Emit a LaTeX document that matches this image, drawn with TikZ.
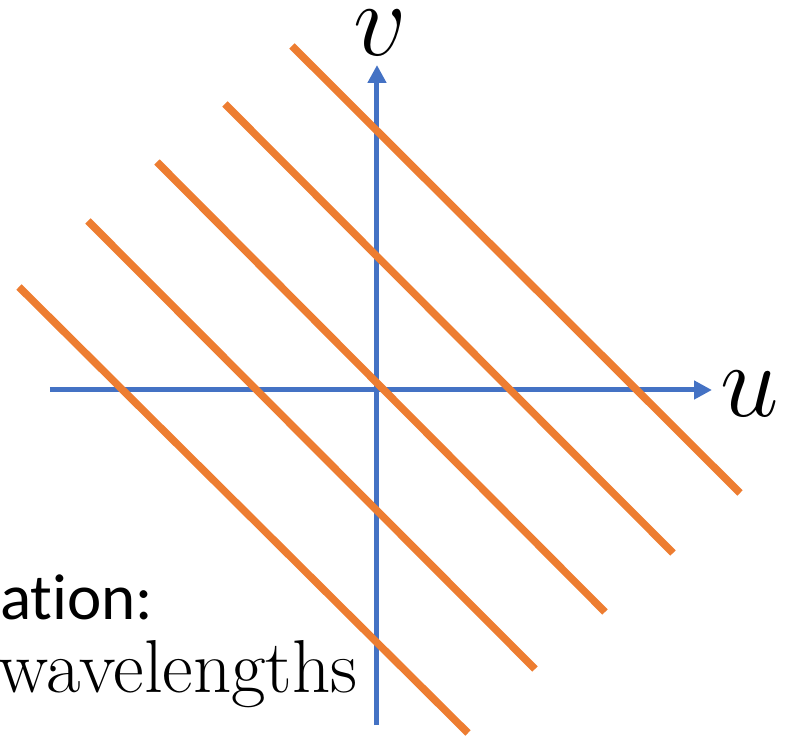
\RequirePackage{fix-cm}
\documentclass[tikz,border=0pt]{standalone}
\usepackage{fontspec}
\newfontfamily\calibri[Ligatures=NoCommon]{Carlito}
\usetikzlibrary{arrows.meta}
\definecolor{axblue}{RGB}{68,114,196}
\definecolor{wvorange}{RGB}{237,125,49}

\begin{document}
\begin{tikzpicture}[x=1pt,y=1pt,
  axis/.style={draw=axblue,line width=5pt,-{Triangle[length=18pt,width=18pt]}},
  wave/.style={draw=wvorange,line width=7.5pt},
  lbl/.style={inner sep=0pt,font=\fontsize{105}{110}\selectfont}
]
\useasboundingbox (-377,-348) rectangle (413,390);
\coordinate (O) at (0,0);
% axes
\draw[axis] (-327,0) -- (335,0);
\draw[axis] (0,-335) -- (0,325);
% wave fronts
\foreach \xa/\ya/\xb/\yb in {-358/103/91/-343, -289/169/158/-279,
    -220/228/228/-222, -152/286/296/-163, -85/344/363/-103}
  \draw[wave] (\xa,\ya) -- (\xb,\yb);
\node[lbl] (v) at (3,357) {$v$};
\node[lbl] (u) at (373,-4) {$u$};
\node[font=\calibri\fontsize{65}{75}\selectfont,anchor=base west,inner sep=0pt] (cap) at (-377,-230) {ation:};
\node[font=\fontsize{75}{85}\selectfont,anchor=base east,inner sep=0pt] (wl) at (-19,-303) {wavelengths};
\end{tikzpicture}
\end{document}
